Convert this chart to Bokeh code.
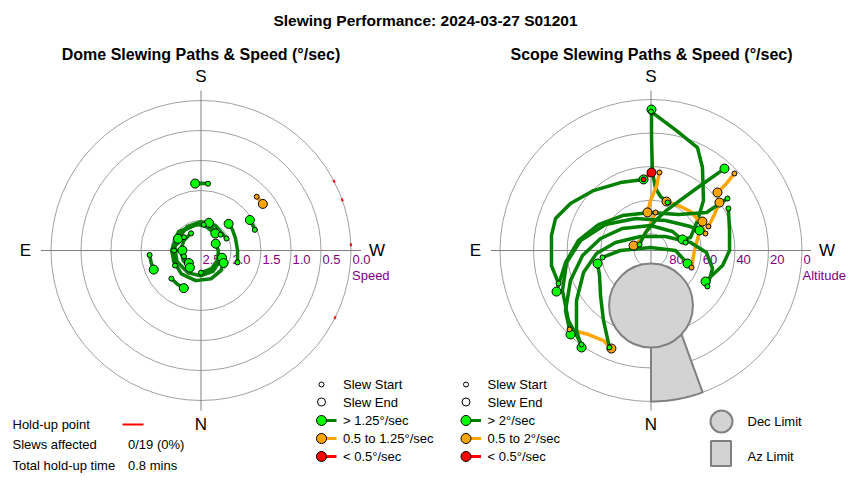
import numpy as np
from bokeh.plotting import figure
from bokeh.models import Range1d
from bokeh.embed import file_html
from bokeh.resources import INLINE
from bokeh.core.properties import value

# ---------------- DATA ----------------
title = "Slewing Performance: 2024-03-27 S01201"
dome_title = "Dome Slewing Paths & Speed (°/sec)"
scope_title = "Scope Slewing Paths & Speed (°/sec)"

speed_ticks = [2.5, 2.0, 1.5, 1.0, 0.5, 0.0]
speed_tick_labels = ["2.5", "2.0", "1.5", "1.0", "0.5", "0.0"]
alt_ticks = [80, 60, 40, 20, 0]
alt_tick_labels = ["80", "60", "40", "20", "0"]

# Dome slews: azimuth (deg) and speed (deg/sec) along the path
dome_az = [
    [186, 181, 175],
    [226, 229, 233],
    [249, 244, 238],
    [288, 270, 250, 236, 226],
    [186, 196],
    [231, 200, 170, 135, 100, 65, 30, 0, 330, 289],
    [128, 100, 70, 40, 10, 340, 315, 299],
    [90, 90],
    [85, 76, 68],
    [46.5, 35, 24.5],
    [71, 57, 44],
    [245, 210, 180, 150, 117],
    [60, 90, 130, 180, 220],
    [0, 330, 300, 270, 245],
    [150, 120, 90, 60, 33],
]
dome_speed = [
    [1.38, 1.38, 1.38],
    [1.21, 1.21, 1.21],
    [1.54, 1.54, 1.54],
    [1.86, 1.89, 1.89, 1.87, 1.86],
    [2.07, 2.02],
    [2.08, 2.07, 2.06, 2.05, 2.05, 2.06, 2.07, 2.08, 2.10, 2.13],
    [2.14, 2.06, 2.01, 1.99, 1.99, 2.00, 2.03, 2.07],
    [2.05, 2.19],
    [1.64, 1.645, 1.65],
    [1.82, 1.815, 1.81],
    [2.20, 2.20, 2.21],
    [2.03, 2.02, 2.02, 2.04, 2.07],
    [2.00, 2.01, 2.01, 2.04, 2.13],
    [2.13, 2.15, 2.18, 2.21, 2.23],
    [2.17, 2.17, 2.16, 2.16, 2.16],
]
dome_cat = ["fast", "med", "fast", "fast", "fast", "fast", "fast", "fast", "fast", "fast",
            "fast", "fast", "fast", "fast", "fast"]

holdup_az = [242.5, 250.3, 267.8, 296.6]

# Scope slews: azimuth (deg) and altitude (deg) along the path
scope_az = [
    [180, 192, 204.3, 211.8, 226.4, 237.2, 251.8, 250.7],
    [199, 190, 184.2, 181.1, 180.3, 180.2],
    [186.2, 184.9, 179.4, 174.7],
    [186.8, 173.5, 133.6, 105.9],
    [70.4, 81.4, 98.6, 108.5, 120.3, 136.2, 155.8, 174],
    [227.3, 228.4, 228.9],
    [247.3, 240.4, 235],
    [292.8, 270, 252.5, 240.6],
    [252.7, 240.5, 225.4, 213.8, 197.6],
    [241.5, 255.7, 270, 281.8, 299.6],
    [117.6, 163, 188.5, 201.9, 217.3, 221.9],
    [174, 180.4],
    [45.9, 36.6, 27.8, 22],
    [235.8, 235.6, 217.4, 179.2, 140.8, 116.3, 97.9, 82, 66.5],
    [257, 228.5, 178.9, 127.7, 103.4, 85.8, 69.6, 54.9, 43.8],
    [302.5, 286.3, 272.1, 258.6, 226, 143.1, 102.7, 86.8, 71.9, 56.1, 43, 35.6],
    [36.5, 49.7, 65.7, 81.9, 98.1, 119.7, 154.2, 205.8, 238.7, 247.6],
    [23.2, 34.2, 48.3, 64.1, 76.3],
    [81.8, 90, 170.5, 270, 289.6],
]
scope_alt = [
    [7.2, 16.9, 22.7, 31.8, 46.8, 57, 65.2, 70.1],
    [59.7, 57.3, 52.9, 43.5, 24.4, 6],
    [43.2, 51.7, 60.2, 67.2],
    [67.2, 76.8, 81.4, 79.2],
    [31.5, 30, 30, 30, 34.4, 40.5, 45.6, 47.4],
    [22.3, 29.8, 37.4],
    [52.9, 46.5, 40.2],
    [63.8, 64.1, 60.3, 54.8],
    [56, 56.1, 56.9, 58.4, 59.4],
    [37.5, 41.7, 43.2, 46.4, 52.6],
    [82.3, 78.8, 71.9, 63.7, 41.3, 24.4],
    [47.4, 43.5],
    [22.4, 27.6, 29.3, 27],
    [34.9, 49.9, 63, 67.4, 63.1, 55.1, 46.4, 38.6, 28.6],
    [68.9, 72.9, 75.1, 68.5, 59.1, 49.1, 38.8, 27.7, 20.7],
    [50.1, 51.8, 56.9, 66, 78, 79.6, 68.3, 57.5, 47.7, 36.5, 24.9, 18.9],
    [20.3, 25.5, 32.1, 39.2, 47.6, 58.8, 68.8, 70.1, 62.5, 58.7],
    [27.1, 39.6, 49.7, 55.9, 57.2],
    [60.8, 71.8, 88.2, 75.4, 66.9],
]
scope_cat = ["fast", "fast", "med", "med", "fast", "med", "med", "med", "med", "fast",
             "fast", "slow", "med", "fast", "fast", "fast", "fast", "fast", "fast"]

# Limits
dec_limit_az, dec_limit_alt, dec_limit_radius = 0.0, 57.2, 25.0
az_limit_range = (340.0, 360.0)
az_limit_alt_top = (37.0, 34.6)   # at 340 and at 360

dome_legend = ["Slew Start", "Slew End", "> 1.25°/sec", "0.5 to 1.25°/sec", "< 0.5°/sec"]
scope_legend = ["Slew Start", "Slew End", "> 2°/sec", "0.5 to 2°/sec", "< 0.5°/sec"]
holdup_rows = [("Hold-up point", ""), ("Slews affected", "0/19 (0%)"), ("Total hold-up time", "0.8 mins")]

# ---------------- STYLE ----------------
LINE_COL = {"fast": "#008000", "med": "#ffa500", "slow": "#ff0000"}
FILL_COL = {"fast": "#00ff00", "med": "#ffa500", "slow": "#ff0000"}
FONT = value("Liberation Sans")
GRID = "#a0a0a0"
AXC = "#808080"
PURPLE = "#800080"

DC, DR = (200.5, 250.0), 150.0
SC, SR = (650.5, 250.0), 151.0


def dome_xy(az, spd):
    a = np.radians(np.asarray(az, float))
    r = DR * (2.5 - np.asarray(spd, float)) / 2.5
    return DC[0] - r * np.sin(a), DC[1] + r * np.cos(a)


def scope_xy(az, alt):
    a = np.radians(np.asarray(az, float))
    r = SR * (90.0 - np.asarray(alt, float)) / 90.0
    return SC[0] - r * np.sin(a), SC[1] + r * np.cos(a)


PW, PH = 849, 479
p = figure(width=PW, height=PH, x_range=Range1d(0, PW), y_range=Range1d(PH, 0),
           output_backend="svg", toolbar_location=None, min_border=0)
p.axis.visible = False
p.grid.visible = False
p.outline_line_color = None
p.background_fill_color = "white"


def txt(x, y, s, size="13px", color="black", align="left", bold=False):
    p.text(x=[x], y=[y], text=[s], text_font=FONT, text_font_size=size, text_color=color,
           text_align=align, text_baseline="middle", text_font_style="bold" if bold else "normal")


# Titles
txt(425, 19.5, title, "15.5px", align="center", bold=True)
txt(DC[0], 54, dome_title, "16px", align="center", bold=True)
txt(SC[0] + 0.5, 54, scope_title, "16px", align="center", bold=True)

# Grids
for (cx, cy), radii in [(DC, [DR * (2.5 - s) / 2.5 for s in speed_ticks if s < 2.5]),
                        (SC, [SR * (90 - a) / 90 for a in alt_ticks])]:
    p.circle(x=[cx] * len(radii), y=[cy] * len(radii), radius=radii, fill_color=None,
             line_color=GRID, line_width=1)
    p.segment(x0=[cx - 160, cx], y0=[cy, cy - 160], x1=[cx + 160, cx], y1=[cy, cy + 160],
              line_color=AXC, line_width=1)
    txt(cx, 75.5, "S", "17px", align="center")
    txt(cx, 424, "N", "17px", align="center")
    txt(cx - 175.5, 249.5, "E", "17px", align="center")
    txt(cx + 176, 249.5, "W", "17px", align="center")

# ring labels
for s, lab in zip(speed_ticks, speed_tick_labels):
    txt(DC[0] + DR * (2.5 - s) / 2.5 + 1.5, 258.5, lab, "13px", PURPLE)
txt(DC[0] + 151, 274.5, "Speed", "13px", PURPLE)
for a, lab in zip(alt_ticks, alt_tick_labels):
    txt(SC[0] + SR * (90 - a) / 90 + 1.5, 258.5, lab, "13px", PURPLE)
txt(SC[0] + 151.5, 274.5, "Altitude", "13px", PURPLE)

# Scope limits: az-limit sector, then dec-limit circle on top
arc_az = np.linspace(az_limit_range[0], az_limit_range[1], 24)
arc_x, arc_y = scope_xy(arc_az, np.zeros_like(arc_az))
top_x, top_y = scope_xy([az_limit_range[1], az_limit_range[0]],
                        [az_limit_alt_top[1], az_limit_alt_top[0]])
p.patch(x=list(top_x) + list(arc_x), y=list(top_y) + list(arc_y),
        fill_color="#d3d3d3", line_color=AXC, line_width=2, line_join="round")
dcx, dcy = scope_xy([dec_limit_az], [dec_limit_alt])
p.circle(x=list(dcx), y=list(dcy), radius=SR * dec_limit_radius / 90, fill_color="#d3d3d3",
         line_color=AXC, line_width=2)


def draw_paths(xy_fun, A, B, cats):
    xs, ys, cols = [], [], []
    sx, sy, sc, ex, ey, ec = [], [], [], [], [], []
    for a, b, c in zip(A, B, cats):
        x, y = xy_fun(a, b)
        xs.append(list(x)); ys.append(list(y)); cols.append(LINE_COL[c])
        sx.append(x[0]); sy.append(y[0]); sc.append(FILL_COL[c])
        ex.append(x[-1]); ey.append(y[-1]); ec.append(FILL_COL[c])
    p.multi_line(xs=xs, ys=ys, line_color=cols, line_width=3.5, line_join="round", line_cap="round")
    p.scatter(x=ex, y=ey, size=9, fill_color=ec, line_color="black", line_width=1)
    p.scatter(x=sx, y=sy, size=5, fill_color=sc, line_color="black", line_width=1)


draw_paths(dome_xy, dome_az, dome_speed, dome_cat)
draw_paths(scope_xy, scope_az, scope_alt, scope_cat)

# Hold-up points on dome chart (speed 0 ring)
hx0, hy0 = dome_xy([a - 0.6 for a in holdup_az], [0] * len(holdup_az))
hx1, hy1 = dome_xy([a + 0.6 for a in holdup_az], [0] * len(holdup_az))
p.segment(x0=list(hx0), y0=list(hy0), x1=list(hx1), y1=list(hy1), line_color="red", line_width=2)

# Legends
rows_y = [384, 401.5, 420, 438, 456]
for x0, labels in [(321, dome_legend), (465.5, scope_legend)]:
    p.scatter(x=[x0], y=[rows_y[0]], size=5, fill_color="white", line_color="black")
    p.scatter(x=[x0], y=[rows_y[1]], size=8, fill_color="white", line_color="black")
    for yy, c in zip(rows_y[2:], ["fast", "med", "slow"]):
        p.segment(x0=[x0], y0=[yy], x1=[x0 + 15], y1=[yy], line_color=LINE_COL[c], line_width=3)
        p.scatter(x=[x0], y=[yy], size=10, fill_color=FILL_COL[c], line_color="black")
    for yy, lab in zip(rows_y, labels):
        txt(x0 + 21.5, yy, lab, "13px")

p.scatter(x=[721], y=[421], size=22, fill_color="#d3d3d3", line_color=AXC, line_width=2)
txt(747, 421, "Dec Limit", "13px")
p.quad(left=[710.5], right=[730.5], top=[440.5], bottom=[465.5], fill_color="#d3d3d3",
       line_color=AXC, line_width=2)
txt(747, 456, "Az Limit", "13px")

for yy, (a, b) in zip([424, 444, 465], holdup_rows):
    txt(12, yy, a, "13px")
    if b:
        txt(127.5, yy, b, "13px")
p.segment(x0=[122], y0=[424], x1=[143], y1=[424], line_color="red", line_width=2)

open("out.html", "w").write(file_html(p, INLINE))
